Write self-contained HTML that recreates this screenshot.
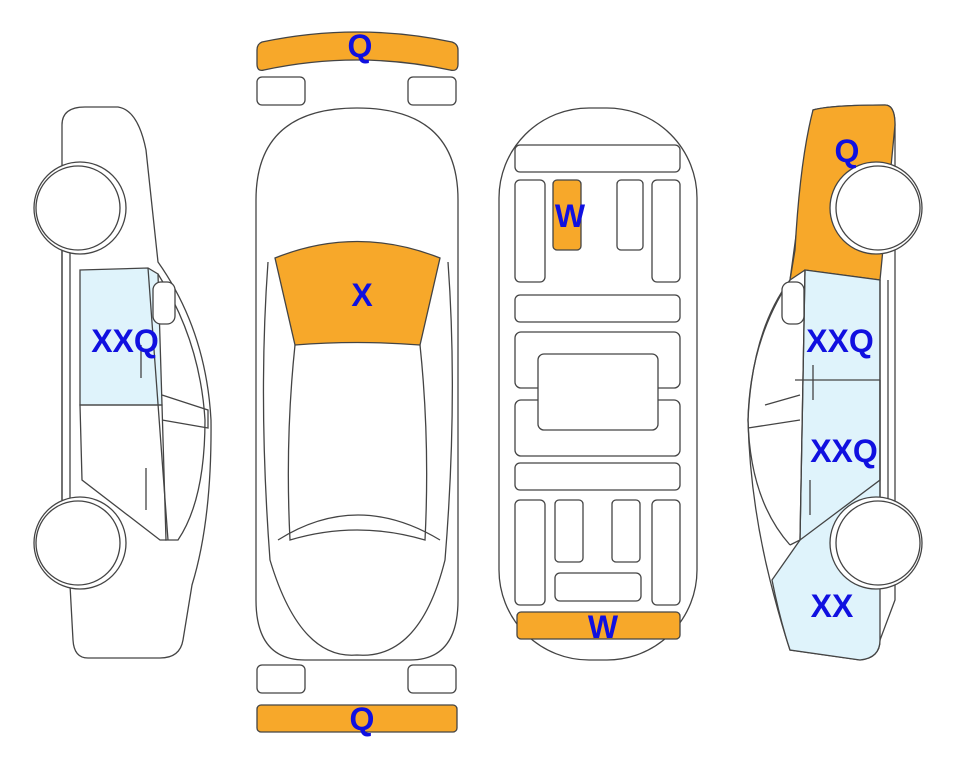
<!DOCTYPE html>
<html><head><style>body{margin:0;background:#fff}svg{display:block}text{font-family:"Liberation Sans",sans-serif;font-weight:bold;fill:#1010e0;font-size:32px;text-anchor:middle}</style></head><body>
<svg width="963" height="768" viewBox="0 0 963 768" fill="none" stroke="#444" stroke-width="1.3">
<!-- LEFT CAR -->
<path d="M62,125 Q62,107 85,107 L118,107 Q138,110 146,150 L158,262 Q206,330 211,420 Q212,520 192,585 L183,640 Q180,658 160,658 L88,658 Q74,658 73,640 L70,585 L62,500 Z" fill="#fff"/>
<path d="M80,270 L148,268 L158,274 L162,405 L80,405 Z" fill="#dff3fb"/>
<path d="M80,405 L162,405 L166,540 L160,540 L82,480 Z"/>
<path d="M148,268 L168,540 M158,274 Q200,340 205,420 Q205,500 178,540 L165,540"/>
<path d="M162,395 L208,410 L208,428 L162,420"/>
<rect x="153" y="282" width="22" height="42" rx="8" fill="#fff"/>
<path d="M62,250 L62,500 M70,250 L70,500"/>
<circle cx="80" cy="208" r="46" fill="#fff"/><circle cx="78" cy="208" r="42" fill="#fff"/>
<circle cx="80" cy="543" r="46" fill="#fff"/><circle cx="78" cy="543" r="42" fill="#fff"/>
<path d="M141,345 L141,378 M146,468 L146,510"/>
<text x="125" y="352" stroke="none">XXQ</text>
<!-- TOP VIEW -->
<path d="M262,42 Q357,22 452,42 Q458,44 458,50 L458,64 Q458,72 450,70 Q357,50 264,70 Q257,72 257,64 L257,50 Q257,44 262,42 Z" fill="#f7a82a"/>
<rect x="257" y="77" width="48" height="28" rx="5"/><rect x="408" y="77" width="48" height="28" rx="5"/>
<rect x="257" y="665" width="48" height="28" rx="5"/><rect x="408" y="665" width="48" height="28" rx="5"/>
<rect x="257" y="705" width="200" height="27" rx="4" fill="#f7a82a"/>
<path d="M256,200 Q256,108 357,108 Q458,108 458,200 L458,600 Q458,660 410,660 L305,660 Q256,660 256,600 Z" fill="#fff"/>
<path d="M275,258 Q357,225 440,258 L420,345 Q357,340 295,345 Z" fill="#f7a82a"/>
<path d="M268,262 Q258,400 270,560 Q300,660 357,655 Q420,660 445,560 Q458,400 448,262"/>
<path d="M295,345 Q285,440 290,540 Q357,520 425,540 Q430,440 420,345"/>
<path d="M278,540 Q357,490 440,540"/>
<text x="360" y="57" stroke="none">Q</text><text x="362" y="306" stroke="none">X</text><text x="362" y="730" stroke="none">Q</text>
<!-- INTERIOR -->
<rect x="499" y="108" width="198" height="552" rx="90" fill="#fff"/>
<rect x="515" y="145" width="165" height="27" rx="5"/>
<rect x="515" y="180" width="30" height="102" rx="5"/>
<rect x="553" y="180" width="28" height="70" rx="4" fill="#f7a82a"/>
<rect x="617" y="180" width="26" height="70" rx="4"/>
<rect x="652" y="180" width="28" height="102" rx="5"/>
<rect x="515" y="295" width="165" height="27" rx="5"/>
<rect x="515" y="332" width="165" height="56" rx="6"/>
<rect x="515" y="400" width="165" height="56" rx="6"/>
<rect x="538" y="354" width="120" height="76" rx="6" fill="#fff"/>
<rect x="515" y="463" width="165" height="27" rx="5"/>
<rect x="515" y="500" width="30" height="105" rx="5"/>
<rect x="555" y="500" width="28" height="62" rx="4"/>
<rect x="612" y="500" width="28" height="62" rx="4"/>
<rect x="652" y="500" width="28" height="105" rx="5"/>
<rect x="555" y="573" width="86" height="28" rx="5"/>
<rect x="517" y="612" width="163" height="27" rx="4" fill="#f7a82a"/>
<text x="570" y="227" stroke="none">W</text><text x="603" y="638" stroke="none">W</text>
<!-- RIGHT CAR -->
<path d="M813,110 Q830,105 885,105 Q895,105 895,125 L895,600 L880,640 Q880,658 860,660 L790,650 Q780,620 770,580 Q750,500 748,420 Q752,330 790,280 Z" fill="#fff"/>
<path d="M813,110 Q830,105 885,105 Q895,105 895,125 L880,280 L805,270 L790,280 L795,250 Q800,160 813,110 Z" fill="#f7a82a"/>
<path d="M805,270 L880,280 L880,600 L880,640 Q880,658 860,660 L790,650 Q780,620 772,580 L800,540 Z" fill="#dff3fb"/>
<path d="M805,270 L800,540 M880,380 L880,480 L800,540 L790,545 M795,380 L880,380"/>
<path d="M790,280 Q750,340 748,420 Q750,500 790,545 M765,405 L800,395 M748,428 L800,420"/>
<rect x="782" y="282" width="22" height="42" rx="8" fill="#fff"/>
<path d="M880,280 L880,500 M888,280 L888,500"/>
<circle cx="876" cy="208" r="46" fill="#fff"/><circle cx="878" cy="208" r="42" fill="#fff"/>
<circle cx="876" cy="543" r="46" fill="#fff"/><circle cx="878" cy="543" r="42" fill="#fff"/>
<path d="M813,365 L813,400 M810,480 L810,515"/>
<text x="847" y="162" stroke="none">Q</text><text x="840" y="352" stroke="none">XXQ</text><text x="844" y="462" stroke="none">XXQ</text><text x="832" y="617" stroke="none">XX</text>
</svg>
</body></html>
